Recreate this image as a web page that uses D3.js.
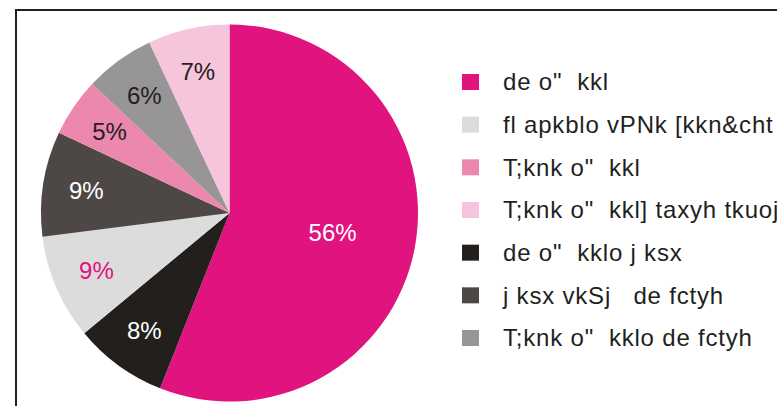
<!DOCTYPE html>
<html>
<head>
<meta charset="utf-8">
<script src="https://cdn.jsdelivr.net/npm/d3@7"></script>
<style>
  body { margin: 0; background: #fff; }
  .pct { font-family: "Liberation Sans", Arial, sans-serif; font-size: 24px; }
  .leg { font-family: "Liberation Sans", Arial, sans-serif; font-size: 24px; letter-spacing: 0.8px; fill: #231f20; white-space: pre; }
</style>
</head>
<body>
<div id="chart"></div>
<script>
// slice data, clockwise from 12 o'clock
var sliceKeys = ["low", "lowDisease", "irrigation", "disease", "high", "highPower", "highWild"];
var values = [56, 8, 9, 9, 5, 6, 7];
var colors = ["#e0137f", "#231f1c", "#dcdcdc", "#4d4845", "#ec87ad", "#979595", "#f6c4db"];
var labelColors = ["#ffffff", "#ffffff", "#e0137f", "#ffffff", "#231f20", "#231f20", "#231f20"];

// legend, top to bottom
var legendKeys = ["low", "irrigation", "high", "highWild", "lowDisease", "disease", "highPower"];
var legendLabels = ["de o\"  kkl", "fl apkblo vPNk [kkn&cht", "T;knk o\"  kkl", "T;knk o\"  kkl] taxyh tkuoj", "de o\"  kklo j ksx", "j ksx vkSj   de fctyh", "T;knk o\"  kklo de fctyh"];

var width = 777, height = 406;
var cx = 229.5, cy = 213, radius = 188.5;

var svg = d3.select("#chart").append("svg")
    .attr("width", width)
    .attr("height", height);

// frame, runs off the right and bottom edge
svg.append("rect")
    .attr("x", 16).attr("y", 10)
    .attr("width", 800).attr("height", 420)
    .attr("fill", "none")
    .attr("stroke", "#231f20")
    .attr("stroke-width", 2);

var pie = d3.pie().sort(null).value(function(d) { return d; });
var arc = d3.arc().innerRadius(0).outerRadius(radius);
var arcs = pie(values);

var g = svg.append("g").attr("transform", "translate(" + cx + "," + cy + ")");

g.selectAll("path")
    .data(arcs)
    .enter().append("path")
    .attr("d", arc)
    .attr("fill", function(d, i) { return colors[i]; });

g.selectAll("text")
    .data(arcs)
    .enter().append("text")
    .attr("class", "pct")
    .attr("text-anchor", "middle")
    .attr("dy", "0.35em")
    .attr("transform", function(d) {
        var r = d.data > 30 ? 105 : 145;
        var a = (d.startAngle + d.endAngle) / 2;
        return "translate(" + (r * Math.sin(a)) + "," + (-r * Math.cos(a)) + ")";
    })
    .attr("fill", function(d, i) { return labelColors[i]; })
    .text(function(d) { return d.data + "%"; });

var y = d3.scalePoint().domain(legendKeys).range([82, 338]);

var leg = svg.selectAll(".legItem")
    .data(legendKeys)
    .enter().append("g")
    .attr("class", "legItem")
    .attr("transform", function(d) { return "translate(462," + y(d) + ")"; });

leg.append("rect")
    .attr("x", 0).attr("y", -8)
    .attr("width", 17).attr("height", 16)
    .attr("fill", function(d) { return colors[sliceKeys.indexOf(d)]; });

leg.append("text")
    .attr("class", "leg")
    .attr("x", 41)
    .attr("dy", "0.35em")
    .text(function(d, i) { return legendLabels[i]; });
</script>
</body>
</html>
